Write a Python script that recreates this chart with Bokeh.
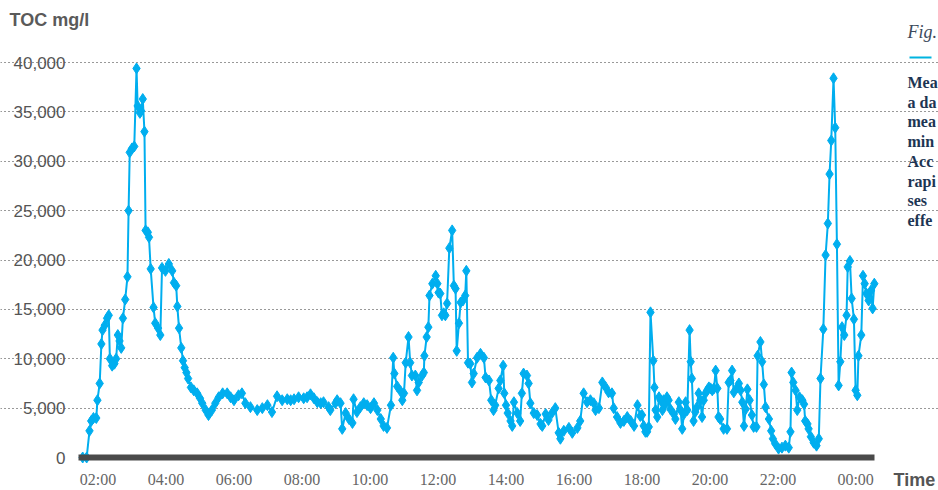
from bokeh.plotting import figure
from bokeh.models import (FixedTicker, NumeralTickFormatter, Label, BoxAnnotation,
                          Range1d, ColumnDataSource)
from bokeh.embed import file_html
from bokeh.resources import INLINE

# ---- data (time in minutes since midnight, TOC in mg/l) ----
MINUTES = [93, 100, 105, 108, 112, 117, 119, 123, 126, 128, 132, 136, 139, 141, 145, 149, 152, 155, 158, 161,
           164, 168, 172, 174, 176, 180, 184, 188, 190, 194, 196, 199, 202, 204, 208, 210, 213, 218, 221, 226,
           230, 233, 239, 245, 251, 254, 258, 260, 263, 267, 270, 273, 276, 279, 284, 289, 295, 300, 304, 310,
           315, 321, 327, 333, 340, 348, 354, 360, 368, 374, 380, 389, 401, 410, 419, 427, 436, 445, 454, 460,
           466, 474, 483, 489, 495, 501, 507, 513, 518, 527, 530, 539, 542, 548, 551, 557, 563, 569, 571, 577,
           583, 589, 595, 601, 607, 613, 619, 624, 630, 637, 641, 643, 648, 654, 657, 660, 663, 668, 671, 674,
           680, 683, 686, 692, 695, 696, 700, 703, 705, 710, 716, 719, 721, 724, 727, 730, 733, 736, 740, 745,
           748, 751, 753, 757, 760, 764, 768, 770, 773, 777, 780, 783, 789, 795, 801, 804, 810, 814, 818, 821,
           827, 830, 835, 837, 840, 843, 848, 851, 854, 860, 865, 868, 871, 877, 880, 883, 889, 895, 901, 904,
           910, 915, 921, 927, 933, 936, 942, 951, 957, 966, 971, 977, 983, 989, 995, 998, 1004, 1010, 1016, 1021,
           1027, 1030, 1036, 1042, 1048, 1054, 1060, 1066, 1072, 1077, 1080, 1083, 1086, 1089, 1092, 1095, 1100, 1102, 1104, 1107,
           1110, 1113, 1116, 1118, 1121, 1124, 1127, 1130, 1136, 1139, 1145, 1148, 1151, 1154, 1157, 1160, 1164, 1166, 1168, 1171,
           1174, 1177, 1180, 1183, 1186, 1189, 1192, 1195, 1198, 1201, 1204, 1207, 1210, 1213, 1215, 1218, 1224, 1230, 1233, 1236,
           1239, 1242, 1248, 1251, 1254, 1257, 1260, 1263, 1266, 1270, 1274, 1277, 1282, 1284, 1289, 1292, 1295, 1298, 1304, 1308,
           1311, 1315, 1321, 1327, 1333, 1339, 1342, 1344, 1347, 1351, 1354, 1358, 1363, 1366, 1368, 1372, 1374, 1378, 1383, 1388,
           1392, 1395, 1400, 1404, 1408, 1411, 1414, 1418, 1421, 1424, 1427, 1430, 1433, 1437, 1441, 1443, 1447, 1450, 1454, 1457,
           1460, 1462, 1467, 1470, 1473, 1476, 1480, 1484, 1487, 1490]

TOC = [0, 0, 2700, 3700, 4000, 4000, 5800, 7500, 11500, 12900, 13400, 14100, 14400, 10000, 9300, 9500, 10000, 12400, 11800, 11100,
       14100, 16000, 18300, 25000, 30900, 31300, 31500, 39400, 35600, 34900, 35100, 36300, 33000, 23000, 22800, 22300, 19100, 15200, 13600, 13100,
       12400, 19200, 18900, 19600, 18900, 17700, 17400, 15300, 13100, 11100, 9800, 9100, 8600, 8000, 7100, 6800, 6500, 6000, 5500, 4800,
       4300, 4800, 5500, 6100, 6500, 6500, 6100, 5800, 6300, 6500, 5500, 5100, 4800, 5000, 5300, 4600, 6200, 5800, 5900, 5800,
       5900, 6100, 6000, 6100, 6400, 6000, 5600, 5500, 5600, 5100, 4800, 5500, 5800, 5500, 2900, 4500, 3900, 3500, 5900, 4600,
       5100, 5500, 5300, 5000, 5500, 4800, 3900, 3200, 3000, 5300, 10100, 8500, 7200, 6700, 5800, 6500, 9600, 12200, 9600, 8300,
       8300, 6800, 7600, 8300, 8600, 10300, 12200, 13200, 16400, 17600, 18400, 17600, 16700, 16600, 14400, 14600, 14400, 15600, 21200, 23000,
       17400, 17100, 10800, 13600, 15700, 15900, 16400, 18900, 9600, 9500, 7600, 8500, 10100, 10500, 10100, 8100, 7800, 5800, 4800, 5300,
       7000, 7800, 9300, 6500, 5300, 4500, 3700, 3200, 5600, 4500, 3700, 6500, 8500, 8300, 7500, 5500, 4500, 4300, 3400, 3200,
       4400, 3800, 4500, 5000, 2500, 1900, 2700, 3000, 2500, 3000, 3700, 6500, 5600, 5800, 5500, 4800, 5000, 7600, 7100, 6600,
       6500, 5000, 4100, 3500, 3700, 4100, 3700, 3200, 5300, 4200, 4300, 3200, 2600, 2600, 3100, 14700, 9800, 7100, 4800, 4100,
       6100, 5800, 4800, 5800, 5400, 6100, 5800, 4900, 4400, 3900, 5600, 4800, 2900, 4400, 5600, 4800, 12900, 9700, 8000, 3700,
       4600, 5100, 6500, 5800, 4100, 5800, 6500, 6800, 7100, 7000, 6800, 7000, 8800, 7000, 4100, 3900, 2900, 2900, 7600, 7800,
       8800, 6600, 7100, 7500, 6800, 5600, 3200, 4900, 6900, 5800, 4300, 3100, 3100, 10300, 11700, 9700, 7400, 5100, 3900, 2700,
       1900, 1400, 900, 1000, 1200, 1000, 2600, 8600, 7600, 6800, 4800, 6100, 5800, 5400, 3700, 3400, 2900, 2100, 1500, 1200,
       1900, 8000, 13000, 20500, 23700, 28700, 32100, 38400, 33400, 21600, 7300, 9700, 13200, 12400, 14400, 19300, 19900, 16100, 14000, 6800,
       6300, 10300, 12400, 18400, 17600, 16600, 15900, 16900, 15100, 17600]

Y_TICKS = [0, 5000, 10000, 15000, 20000, 25000, 30000, 35000, 40000]
X_TICK_MINUTES = [120, 240, 360, 480, 600, 720, 840, 960, 1080, 1200, 1320, 1457]
X_TICK_LABELS = ["02:00", "04:00", "06:00", "08:00", "10:00", "12:00", "14:00",
                 "16:00", "18:00", "20:00", "22:00", "00:00"]
X_START, X_END = 85.6, 1495.6      # plotting window of the time axis (minutes)

TITLE_Y = "TOC mg/l"
TITLE_X = "Time"
SIDE_FIG = "Fig."
# only the visible beginnings of the (window-clipped) caption lines
SIDE_LINES = ["Mea", "a da", "mea", "min", "Acc", "rapi", "ses", "effe"]

src = ColumnDataSource(data=dict(t=MINUTES, v=TOC))

# frame covers the whole canvas; axes are pinned with fixed_location
PX_PER_MIN = 34 / 60.0
UNITS_PER_PX = 40000 / 395.0
p = figure(width=938, height=490, output_backend="svg", toolbar_location=None,
           x_range=Range1d(X_START - 78 / PX_PER_MIN, X_START + (938 - 78) / PX_PER_MIN),
           y_range=Range1d(-(490 - 457) * UNITS_PER_PX, 457 * UNITS_PER_PX),
           min_border=0)
p.outline_line_color = None
p.background_fill_color = "white"
p.border_fill_color = "white"

# x axis
xa = p.xaxis[0]
xa.fixed_location = 0
xa.bounds = (X_START, 1490)
xa.ticker = FixedTicker(ticks=X_TICK_MINUTES)
xa.major_label_overrides = {t: l for t, l in zip(X_TICK_MINUTES, X_TICK_LABELS)}
xa.axis_line_width = 6
xa.axis_line_color = "#4a4a4a"
xa.major_tick_line_color = None
xa.minor_tick_line_color = None
xa.major_tick_out = 0
xa.major_tick_in = 0
xa.major_label_standoff = 13
xa.major_label_text_font = "Liberation Sans Narrow"
xa.major_label_text_font_size = "16px"
xa.major_label_text_color = "#666666"

# y axis
ya = p.yaxis[0]
ya.fixed_location = X_START
ya.ticker = FixedTicker(ticks=Y_TICKS)
ya.formatter = NumeralTickFormatter(format="0,0")
ya.axis_line_color = None
ya.major_tick_line_color = None
ya.minor_tick_line_color = None
ya.major_tick_out = 0
ya.major_tick_in = 0
ya.major_label_standoff = 13
ya.major_label_text_font = "Liberation Sans"
ya.major_label_text_font_size = "17px"
ya.major_label_text_color = "#555555"

p.xgrid.visible = False
p.ygrid.ticker = FixedTicker(ticks=Y_TICKS[1:])
p.ygrid.bounds = (X_START, X_END)
p.ygrid.grid_line_dash = "1 3"
p.ygrid.grid_line_color = "#333333"
p.ygrid.grid_line_width = 1

p.line(x="t", y="v", source=src, line_color="#00aeef", line_width=2)
p.scatter(x="t", y="v", source=src, marker="diamond", size=11,
          fill_color="#00aeef", line_color="#00aeef")

# texts (screen units: x from left, y from bottom)
p.add_layout(Label(x=9, y=471, x_units="screen", y_units="screen", text=TITLE_Y,
                   text_font="Liberation Sans", text_font_style="bold", text_font_size="18px",
                   text_color="#5a5a5a", text_baseline="middle", text_align="left"))
p.add_layout(Label(x=893, y=11, x_units="screen", y_units="screen", text=TITLE_X,
                   text_font="Liberation Sans", text_font_style="bold", text_font_size="18px",
                   text_color="#555555", text_baseline="middle", text_align="left"))
p.add_layout(Label(x=907, y=459, x_units="screen", y_units="screen", text=SIDE_FIG,
                   text_font="Liberation Serif", text_font_style="italic", text_font_size="18px",
                   text_color="#3c4a5c", text_baseline="middle", text_align="left"))
p.add_layout(BoxAnnotation(left=909, right=931, bottom=432, top=434,
                           left_units="screen", right_units="screen",
                           bottom_units="screen", top_units="screen",
                           fill_color="#00b4e0", fill_alpha=1, line_color=None))
for i, s in enumerate(SIDE_LINES):
    p.add_layout(Label(x=907, y=408 - i * 19.7, x_units="screen", y_units="screen", text=s,
                       text_font="Liberation Serif", text_font_style="bold", text_font_size="16px",
                       text_color="#1d3553", text_baseline="middle", text_align="left"))

open("out.html", "w").write(file_html(p, INLINE))
